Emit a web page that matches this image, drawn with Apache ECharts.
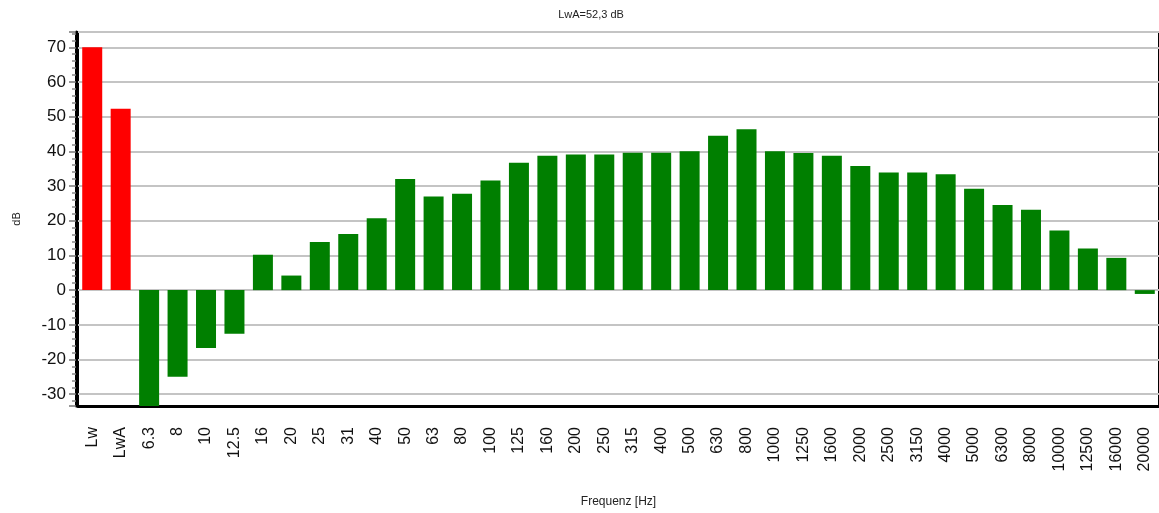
<!DOCTYPE html>
<html>
<head>
<meta charset="utf-8">
<script src="https://cdn.jsdelivr.net/npm/echarts@6/dist/echarts.min.js"></script>
<style>
html,body{margin:0;padding:0;background:#fff;}
#chart{width:1159px;height:513px;}
</style>
</head>
<body>
<div id="chart"></div>
<script>
const categories = ['Lw','LwA','6.3','8','10','12.5','16','20','25','31','40','50','63','80','100','125','160','200','250','315','400','500','630','800','1000','1250','1600','2000','2500','3150','4000','5000','6300','8000','10000','12500','16000','20000'];
const levels = [70, 52.3, -35, -25.0, -16.7, -12.6, 10.2, 4.2, 13.9, 16.2, 20.7, 32.0, 27.0, 27.8, 31.6, 36.7, 38.7, 39.1, 39.1, 39.6, 39.6, 40.0, 44.5, 46.4, 40.0, 39.5, 38.7, 35.8, 33.9, 33.9, 33.4, 29.2, 24.5, 23.2, 17.2, 12.0, 9.3, -1.1];
const totalCount = 2; // Lw and LwA drawn in red
const titleText = 'LwA=52,3 dB';
const yName = 'dB';
const xName = 'Frequenz [Hz]';

const font = 'Arial, "Liberation Sans", sans-serif';
const chart = echarts.init(document.getElementById('chart'));
chart.setOption({
  animation: false,
  title: {
    text: titleText,
    left: 586, top: 4, textAlign: 'center',
    textStyle: {fontFamily: font, fontSize: 11, fontWeight: 'normal', color: '#222'}
  },
  grid: {
    left: 78, right: -2, top: 32, bottom: 107,
    show: true, borderColor: '#000', borderWidth: 2, backgroundColor: '#fff'
  },
  xAxis: {
    type: 'category',
    data: categories,
    boundaryGap: true,
    name: xName,
    nameLocation: 'middle',
    nameGap: 90,
    nameTextStyle: {fontFamily: font, fontSize: 12, color: '#222'},
    axisLine: {onZero: false, lineStyle: {color: '#000', width: 3}},
    axisTick: {alignWithLabel: true, length: 9, lineStyle: {color: '#888', width: 1.5}},
    axisLabel: {rotate: 90, margin: 21, interval: 0, fontFamily: font, fontSize: 16, color: '#111'},
    splitLine: {show: false}
  },
  yAxis: {
    type: 'value',
    min: -33.4, max: 74.4,
    splitNumber: 11,
    offset: 2,
    name: yName,
    nameLocation: 'middle',
    nameGap: 54,
    nameTextStyle: {fontFamily: font, fontSize: 11, color: '#222'},
    axisLine: {show: true, lineStyle: {color: '#000', width: 3}},
    axisTick: {show: true, length: 7, lineStyle: {color: '#777', width: 1.5}},
    minorTick: {show: true, splitNumber: 5, length: 4, lineStyle: {color: '#888', width: 1.5}},
    axisLabel: {margin: 10, showMinLabel: false, showMaxLabel: false, fontFamily: font, fontSize: 17, color: '#111'},
    splitLine: {show: true, lineStyle: {color: '#c4c4c4', width: 2}}
  },
  series: [{
    type: 'bar',
    data: levels,
    barWidth: 20,
    clip: true,
    itemStyle: {
      color: function (p) { return p.dataIndex < totalCount ? '#ff0000' : '#007f00'; }
    }
  }]
});
</script>
</body>
</html>
